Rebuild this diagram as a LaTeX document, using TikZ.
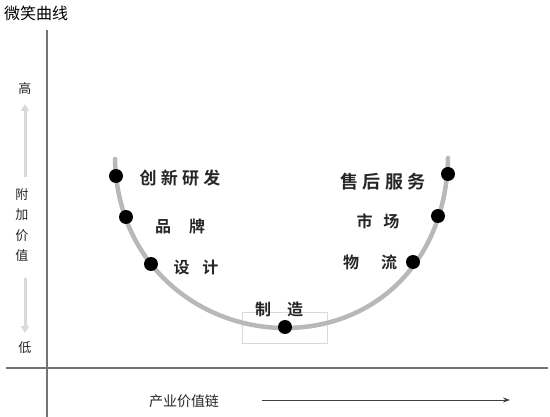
\documentclass[tikz,border=0pt]{standalone}
\usepackage{fontspec}
\newfontfamily\cjk{Noto Sans CJK SC}
\newfontfamily\cjkb{Noto Sans CJK SC Bold}
\newfontfamily\cjkbs[LetterSpace=25]{Noto Sans CJK SC Bold}
\usetikzlibrary{arrows.meta}
\begin{document}
\begin{tikzpicture}[x=1pt,y=-1pt,
  dot/.style={circle,fill=black,inner sep=0pt,minimum size=14pt},
  lab/.style={font=\cjkb\fontsize{16}{16}\selectfont,inner sep=0pt,text=black!85},
  axlab/.style={font=\cjk\fontsize{13}{13}\selectfont,inner sep=0pt,text=black!85},
  axis/.style={draw=black!55,line width=1.6pt},
  greyarrow/.style={draw=black!15,line width=3pt,-{Triangle[length=7pt,width=8pt]}}]
\useasboundingbox (0,0) rectangle (550,417);
% title
\node[font=\cjk\fontsize{16}{16}\selectfont,anchor=west,inner sep=0pt] (title) at (4,13) {微笑曲线};
% axes
\coordinate (ytop) at (47,30);
\coordinate (ybot) at (47,417);
\coordinate (xl) at (6,368);
\coordinate (xr) at (548,368);
\draw[axis] (ytop) -- (ybot);
\draw[axis] (xl) -- (xr);
% y-axis labels
\node[axlab] (hi) at (25,89) {高};
\node[axlab,align=center,font=\cjk\fontsize{13}{20.5}\selectfont] (val) at (22,225) {附\\加\\价\\值};
\node[axlab] (lo) at (25,348) {低};
\coordinate (upS) at (25,177);
\coordinate (upE) at (25,104);
\coordinate (dnS) at (25,278);
\coordinate (dnE) at (25,333);
\draw[greyarrow] (upS) -- (upE);
\draw[greyarrow] (dnS) -- (dnE);
% box around manufacturing
\node[draw=black!15,line width=0.6pt,minimum width=85pt,minimum height=31pt,inner sep=0pt] (box) at (285,327.5) {};
% curve
\coordinate (cL) at (115,159);
\coordinate (cB) at (285,328);
\coordinate (cR) at (448,158);
\draw[draw=black!28,line width=4.5pt,line cap=round]
  (cL) .. controls (117,265) and (200,328) .. (cB)
       .. controls (375,328) and (446,262) .. (cR);
% dots
\node[dot] (d1) at (116,176) {};
\node[dot] (d2) at (126,217) {};
\node[dot] (d3) at (151,264) {};
\node[dot] (d4) at (285,327) {};
\node[dot] (d5) at (448,174) {};
\node[dot] (d6) at (438,216) {};
\node[dot] (d7) at (413,262) {};
% labels
\node[lab,font=\cjkbs\fontsize{17}{17}\selectfont] (l1) at (180,178) {创新研发};
\node[lab] (l2) at (180,226) {品\hspace{18pt}牌};
\node[lab] (l3) at (196,267) {设\hspace{13pt}计};
\node[lab] (l4) at (279,309) {制\hspace{16pt}造};
\node[lab,font=\cjkbs\fontsize{18}{18}\selectfont] (l5) at (383,182) {售后服务};
\node[lab] (l6) at (378,221) {市\hspace{11pt}场};
\node[lab] (l7) at (370,262) {物\hspace{22pt}流};
% x-axis label and arrow
\node[axlab,font=\cjk\fontsize{14}{14}\selectfont,inner sep=0pt] (xlab) at (184,401) {产业价值链};
\coordinate (aS) at (262,400);
\coordinate (aE) at (510,400);
\draw[black!75,line width=0.8pt,-{Stealth[length=7pt,width=5pt]}] (aS) -- (aE);
\end{tikzpicture}
\end{document}
